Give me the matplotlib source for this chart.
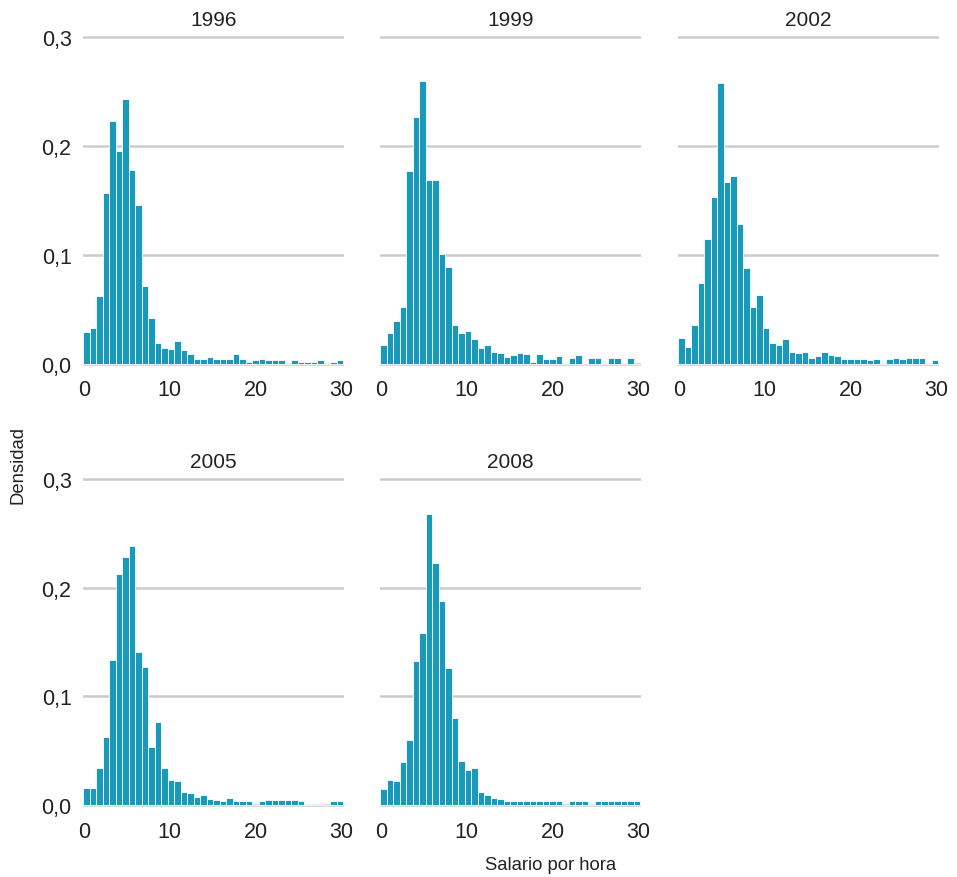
import matplotlib
matplotlib.use("Agg")
import matplotlib.pyplot as plt
import numpy as np
from matplotlib.ticker import FuncFormatter

plt.rcParams['font.family'] = ['Liberation Sans', 'DejaVu Sans']

years = ["1996", "1999", "2002", "2005", "2008"]
bin_edges = np.linspace(-0.1, 30.2, 41)

dens_1996 = [0.029, 0.033, 0.062, 0.157, 0.223, 0.195, 0.243, 0.178, 0.146, 0.072,
             0.042, 0.019, 0.015, 0.014, 0.021, 0.0125, 0.009, 0.0043, 0.0043, 0.006,
             0.005, 0.005, 0.005, 0.009, 0.005, 0.0015, 0.004, 0.005, 0.004, 0.004,
             0.004, 0.0012, 0.004, 0.0015, 0.0015, 0.0015, 0.004, 0.001, 0.0015, 0.004]
dens_1999 = [0.017, 0.028, 0.039, 0.052, 0.177, 0.227, 0.260, 0.1685, 0.1685, 0.1006,
             0.0887, 0.0355, 0.028, 0.030, 0.0226, 0.0144, 0.0171, 0.0107, 0.0098, 0.0061,
             0.008, 0.0098, 0.0089, 0.0015, 0.0095, 0.005, 0.005, 0.0073, 0.001, 0.0055,
             0.0083, 0.001, 0.0055, 0.0055, 0.001, 0.0055, 0.0055, 0.001, 0.0055, 0.0]
dens_2002 = [0.0235, 0.0153, 0.0355, 0.074, 0.1144, 0.153, 0.2575, 0.1667, 0.172, 0.128,
             0.0878, 0.052, 0.063, 0.0327, 0.019, 0.0171, 0.0226, 0.0107, 0.0098, 0.0107,
             0.0052, 0.007, 0.0107, 0.008, 0.0075, 0.005, 0.005, 0.0046, 0.0046, 0.0037,
             0.0046, 0.001, 0.0046, 0.0055, 0.0046, 0.0055, 0.0055, 0.0055, 0.0005, 0.0037]
dens_2005 = [0.0159, 0.0159, 0.0343, 0.0627, 0.1333, 0.2122, 0.2278, 0.2379, 0.1407, 0.1269,
             0.0535, 0.0765, 0.0343, 0.0232, 0.0223, 0.0122, 0.0113, 0.0076, 0.0095, 0.0058,
             0.0049, 0.004, 0.0067, 0.004, 0.004, 0.004, 0.0003, 0.0037, 0.0046, 0.0046,
             0.0046, 0.0042, 0.0046, 0.0037, 0.001, 0.001, 0.001, 0.0, 0.0037, 0.0037]
dens_2008 = [0.015, 0.0232, 0.0223, 0.0398, 0.0599, 0.1324, 0.158, 0.268, 0.2223, 0.1875,
             0.126, 0.080, 0.0407, 0.0324, 0.0343, 0.0122, 0.0095, 0.0067, 0.0058, 0.004,
             0.004, 0.004, 0.004, 0.004, 0.004, 0.004, 0.004, 0.004, 0.0, 0.004,
             0.004, 0.004, 0.001, 0.004, 0.004, 0.004, 0.004, 0.004, 0.004, 0.004]
densities = [dens_1996, dens_1999, dens_2002, dens_2005, dens_2008]

y_ticks = [0.0, 0.1, 0.2, 0.3]
x_ticks = [0, 10, 20, 30]

bar_color = "#1a9aba"
grid_color = "#cccccc"
text_color = "#222222"

fig = plt.figure(figsize=(9.57, 8.78), dpi=100)

lefts = [0.0864, 0.3968, 0.7081]
width = 0.273
rows = [(0.5793, 0.3837), (0.0770, 0.3826)]

comma = FuncFormatter(lambda v, p: f"{v:.1f}".replace(".", ","))

for i, (yr, dens) in enumerate(zip(years, densities)):
    r, c = divmod(i, 3)
    bottom, height = rows[r]
    ax = fig.add_axes([lefts[c], bottom, width, height])
    ax.bar(bin_edges[:-1], dens, width=np.diff(bin_edges), align="edge",
           color=bar_color, edgecolor="white", linewidth=0.6, zorder=2)
    ax.set_xlim(-0.15, 30.3)
    ax.set_ylim(-0.004, 0.305)
    ax.set_yticks(y_ticks)
    ax.set_xticks(x_ticks)
    ax.yaxis.set_major_formatter(comma)
    ax.grid(axis="y", color=grid_color, linewidth=1.8, zorder=0)
    ax.grid(axis="x", visible=False)
    for s in ax.spines.values():
        s.set_visible(False)
    ax.tick_params(length=0, labelsize=15.5, colors=text_color, pad=8)
    if c != 0:
        ax.tick_params(axis="y", labelleft=False)
    ax.set_title(yr, fontsize=15, color=text_color, pad=5)
    ax.set_facecolor("white")

fig.text(0.019, 0.47, "Densidad", rotation=90, ha="center", va="center",
         fontsize=13.3, color=text_color)
fig.text(0.5758, 0.0137, "Salario por hora", ha="center", va="center",
         fontsize=13.3, color=text_color)

fig.savefig("out.png", dpi=100, facecolor="white")
